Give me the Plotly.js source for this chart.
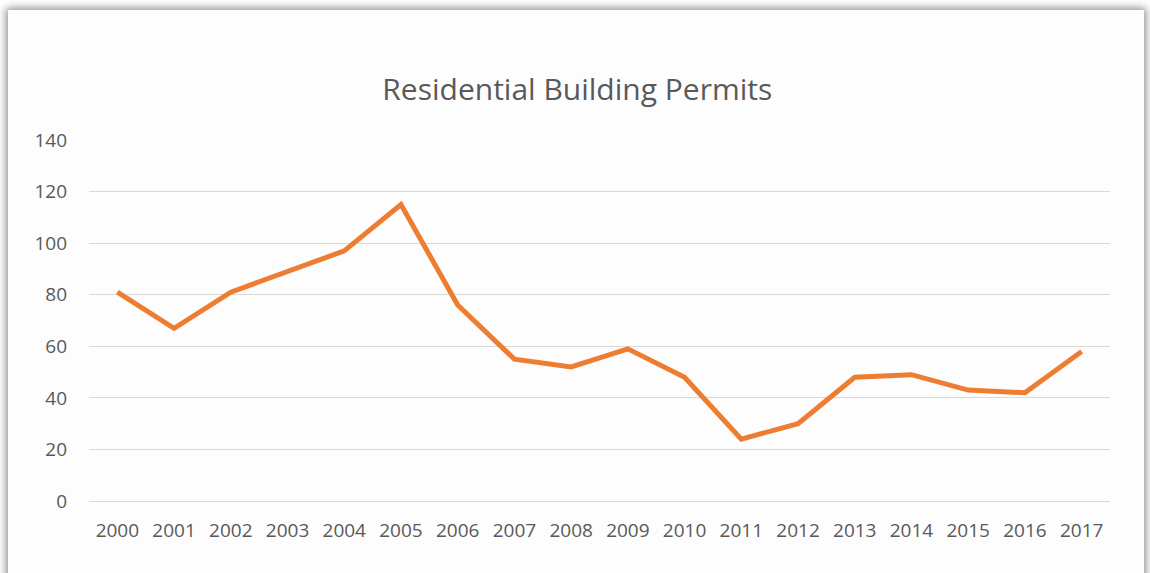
<!DOCTYPE html>
<html><head><meta charset="utf-8">
<script src="https://cdn.plot.ly/plotly-3.0.1.min.js"></script>
<style>
html,body{margin:0;padding:0;background:#ffffff;width:1150px;height:573px;overflow:hidden;}
#frame{position:absolute;left:8px;top:10px;width:1136px;height:600px;background:#fdfdfd;box-shadow:0 0 8px 2px rgba(0,0,0,0.45);}
#chart{position:absolute;left:0;top:0;width:1150px;height:573px;}
</style></head>
<body>
<div id="frame"></div>
<div id="chart"></div>
<script>
const years = ['2000','2001','2002','2003','2004','2005','2006','2007','2008','2009','2010','2011','2012','2013','2014','2015','2016','2017'];
const permits = [81, 67, 81, 89, 97, 115, 76, 55, 52, 59, 48, 24, 30, 48, 49, 43, 42, 58];
const yTicks = [0, 20, 40, 60, 80, 100, 120, 140];

const trace = {
  x: years, y: permits, type: 'scatter', mode: 'lines',
  line: {color: '#ED7D31', width: 5, shape: 'linear'},
  hoverinfo: 'x+y'
};
const layout = {
  width: 1150, height: 573,
  paper_bgcolor: 'rgba(0,0,0,0)', plot_bgcolor: 'rgba(0,0,0,0)',
  margin: {l: 89, r: 40, t: 140, b: 72},
  showlegend: false,
  title: {text: 'Residential Building Permits', x: 0.502, xanchor: 'center', y: 0.843, yanchor: 'middle', yref: 'container',
    font: {family: 'Open Sans, sans-serif', size: 30, color: '#595959'}},
  xaxis: {type: 'category', range: [-0.5, years.length - 0.5], showgrid: false, zeroline: false, showline: false, ticks: '',
    tickfont: {family: 'Open Sans, sans-serif', size: 19, color: '#595959'}, ticklabelstandoff: 16, fixedrange: true},
  yaxis: {range: [0, 140], tickvals: yTicks, ticktext: yTicks.map(String), showgrid: true, gridcolor: '#D9D9D9', gridwidth: 1,
    zeroline: true, zerolinecolor: '#D9D9D9', zerolinewidth: 1, showline: false, ticks: '',
    tickfont: {family: 'Open Sans, sans-serif', size: 19, color: '#595959'}, ticklabelstandoff: 21, fixedrange: true}
};
Plotly.newPlot('chart', [trace], layout, {displayModeBar: false, staticPlot: true});
</script>
</body></html>
